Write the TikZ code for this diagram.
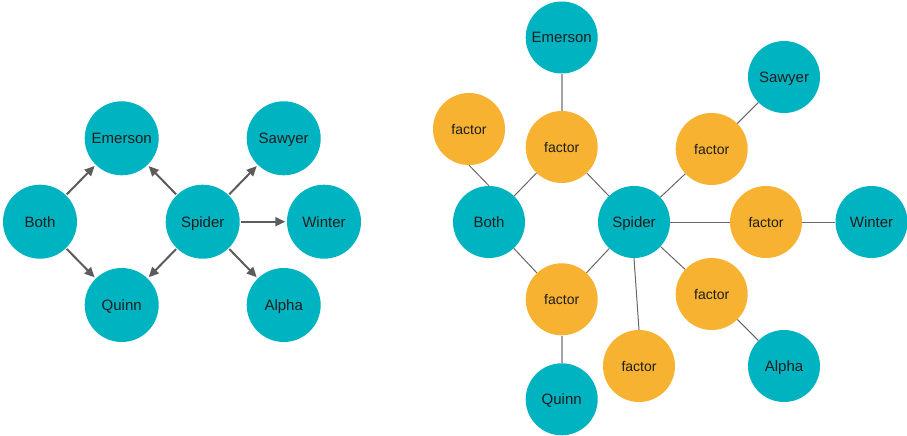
\documentclass[tikz,border=0pt]{standalone}
\usepackage{fontspec}
\setmainfont{Liberation Sans}
\usetikzlibrary{arrows.meta}
\definecolor{teal1}{HTML}{00B3C1}
\definecolor{orange1}{HTML}{F6B230}
\definecolor{txt}{HTML}{1E1E1E}
\definecolor{arr}{HTML}{5C5C5C}
\definecolor{ln}{HTML}{676767}
\definecolor{lnlight}{HTML}{A3A3A3}
\tikzset{
  ent/.style={circle,fill=teal1,draw=none,minimum size=74pt,inner sep=0pt,text=txt,font=\fontsize{15}{15}\selectfont,text height=10.7pt,text depth=0pt},
  entr/.style={ent,minimum size=72pt},
  fac/.style={circle,fill=orange1,draw=none,minimum size=72pt,inner sep=0pt,text=txt,font=\fontsize{14}{14}\selectfont,text height=10pt,text depth=0pt},
  arrowedge/.style={draw=arr,line width=2pt,-{Triangle[length=10pt,width=9pt]},shorten >=1.5pt,shorten <=1pt},
  thin/.style={draw=ln,line width=1pt},
  light/.style={draw=lnlight,line width=1.6pt}
}
\begin{document}
\begin{tikzpicture}[x=1pt,y=-1pt]
\useasboundingbox (0,0) rectangle (907,436);
% left graph
\node[ent] (lBoth) at (40,221.7) {Both};
\node[ent] (lEmerson) at (121.7,138.3) {Emerson};
\node[ent] (lQuinn) at (121.7,305) {Quinn};
\node[ent] (lSpider) at (202.7,221.7) {Spider};
\node[ent] (lSawyer) at (283.7,138.3) {Sawyer};
\node[ent] (lWinter) at (324,221.7) {Winter};
\node[ent] (lAlpha) at (283.7,305) {Alpha};
\draw[arrowedge] (lBoth) -- (lEmerson);
\draw[arrowedge] (lBoth) -- (lQuinn);
\draw[arrowedge] (lSpider) -- (lEmerson);
\draw[arrowedge] (lSpider) -- (lQuinn);
\draw[arrowedge] (lSpider) -- (lSawyer);
\draw[arrowedge] (lSpider) -- (lWinter);
\draw[arrowedge] (lSpider) -- (lAlpha);
% right graph
\node[entr] (rEmerson) at (561.7,37.5) {Emerson};
\node[fac] (f1) at (469,129) {factor};
\node[fac] (f2) at (561.7,147) {factor};
\node[entr] (rSawyer) at (784,77) {Sawyer};
\node[fac] (f3) at (711.7,149) {factor};
\node[entr] (rBoth) at (489,222) {Both};
\node[entr] (rSpider) at (634,222) {Spider};
\node[fac] (f4) at (766,222) {factor};
\node[entr] (rWinter) at (871.5,222) {Winter};
\node[fac] (f5) at (561.7,299.3) {factor};
\node[fac] (f6) at (711.7,294) {factor};
\node[fac] (f7) at (639,366) {factor};
\node[entr] (rQuinn) at (561.7,399.3) {Quinn};
\node[entr] (rAlpha) at (784,366) {Alpha};
\draw[light] (f2) -- (rEmerson);
\draw[light] (f5) -- (rQuinn);
\draw[thin] (f1.south) -- (rBoth.north);
\draw[thin] (rBoth) -- (f2);
\draw[thin] (rBoth) -- (f5);
\draw[thin] (rSpider) -- (f2);
\draw[thin] (rSpider) -- (f3);
\draw[thin] (f3) -- (rSawyer);
\draw[thin] (rSpider) -- (f4);
\draw[thin] (f4) -- (rWinter);
\draw[thin] (rSpider) -- (f5);
\draw[thin] (rSpider.south) -- (f7.north);
\draw[thin] (rSpider) -- (f6);
\draw[thin] (f6) -- (rAlpha);
\end{tikzpicture}
\end{document}
